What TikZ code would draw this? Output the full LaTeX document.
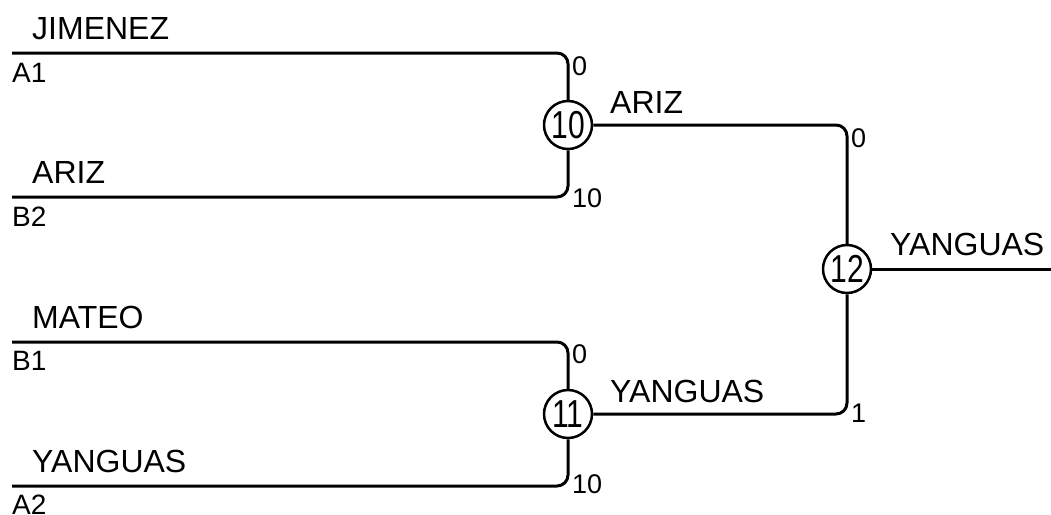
\documentclass[tikz,border=0pt]{standalone}
\usepackage{fontspec}
\setmainfont{Liberation Sans}
\begin{document}
\begin{tikzpicture}[x=1pt,y=-1pt,
  wire/.style={line width=3pt,rounded corners=11pt},
  gamenode/.style={circle,draw,line width=2.5pt,minimum size=48pt,inner sep=0pt,font=\fontsize{39}{40}\selectfont},
  namelbl/.style={anchor=base west,inner sep=0pt,font=\fontsize{32}{34}\selectfont},
  codelbl/.style={anchor=base west,inner sep=0pt,font=\fontsize{28}{30}\selectfont},
  scorelbl/.style={anchor=base west,inner sep=0pt,font=\fontsize{27}{29}\selectfont}]
\useasboundingbox (0,0) rectangle (1051,514);
% game nodes
\node[gamenode] (c10) at (568,125) {\scalebox{0.77}[1]{10}};
\node[gamenode] (c11) at (568,414) {\scalebox{0.77}[1]{11}};
\node[gamenode] (c12) at (847,269) {\scalebox{0.77}[1]{12}};
% player line starts
\coordinate (a1) at (12,53);
\coordinate (b2) at (12,197);
\coordinate (b1) at (12,342);
\coordinate (a2) at (12,486);
\coordinate (out) at (1051,269);
% wires
\draw[wire] (a1) -| (c10.north);
\draw[wire] (b2) -| (c10.south);
\draw[wire] (b1) -| (c11.north);
\draw[wire] (a2) -| (c11.south);
\draw[wire] (c10.east) -| (c12.north);
\draw[wire] (c11.east) -| (c12.south);
\draw[wire] (c12.east) -- (out);
% names
\node[namelbl] (nj) at (32,39) {JIMENEZ};
\node[codelbl] (ka1) at (12,82) {A1};
\node[namelbl] (na) at (32,183) {ARIZ};
\node[codelbl] (kb2) at (12,226) {B2};
\node[namelbl] (nm) at (32,328) {MATEO};
\node[codelbl] (kb1) at (12,370) {B1};
\node[namelbl] (ny) at (32,472) {YANGUAS};
\node[codelbl] (ka2) at (12,514) {A2};
\node[namelbl] (w10) at (610,113) {ARIZ};
\node[namelbl] (w11) at (610,402) {YANGUAS};
\node[namelbl] (w12) at (890,255) {YANGUAS};
% scores
\node[scorelbl] (s1) at (572,75) {0};
\node[scorelbl] (s2) at (572,207) {10};
\node[scorelbl] (s3) at (572,363) {0};
\node[scorelbl] (s4) at (572,493) {10};
\node[scorelbl] (s5) at (851,147) {0};
\node[scorelbl] (s6) at (851,422) {1};
\end{tikzpicture}
\end{document}
